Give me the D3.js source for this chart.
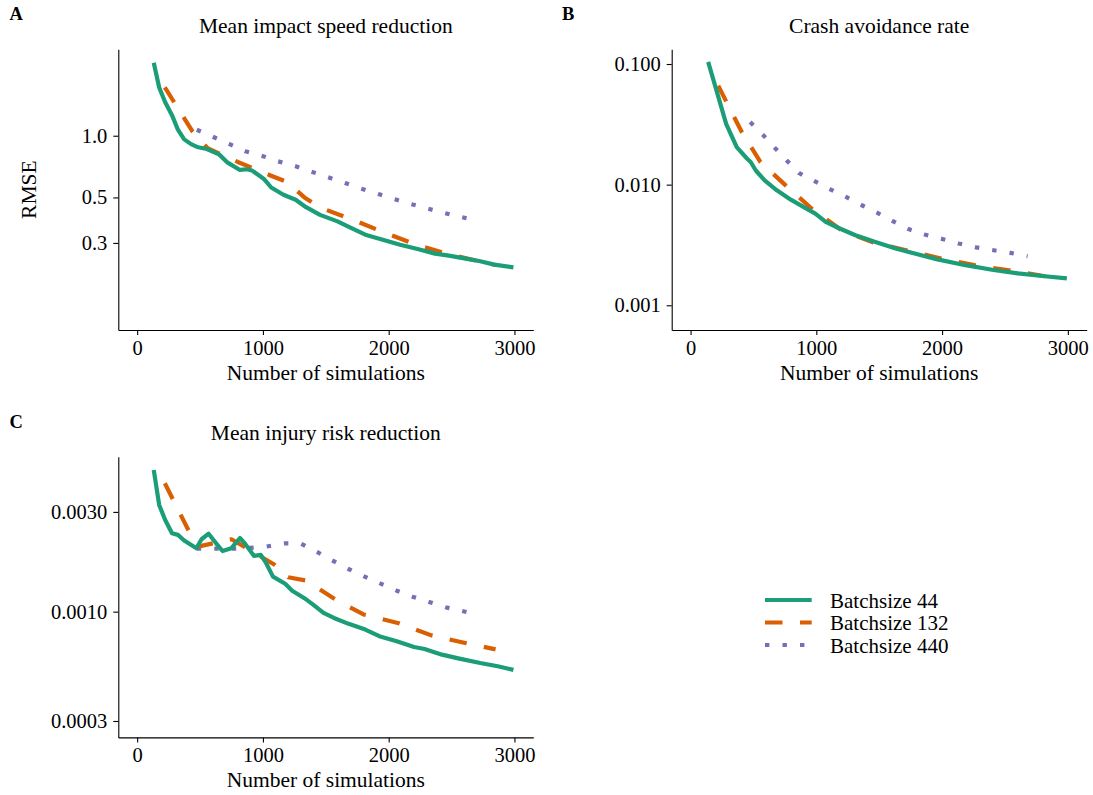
<!DOCTYPE html>
<html>
<head>
<meta charset="utf-8">
<script src="https://cdn.jsdelivr.net/npm/d3@7"></script>
<style>
  html, body { margin: 0; padding: 0; background: #fff; overflow: hidden; }
  svg { display: block; }
  svg text { font-family: "Liberation Serif", "Times New Roman", serif; fill: #000; }
</style>
</head>
<body>
<div id="chart"></div>
<script>
// x ticks shared by all panels
const xTicks = [0, 1000, 2000, 3000];
const seriesNames = ["Batchsize 44", "Batchsize 132", "Batchsize 440"];
const seriesColors = ["#1B9E77", "#D95F02", "#7570B3"];

// Panel A: mean impact speed reduction (RMSE)
const impactB44 = [[132,2.27],[175,1.72],[222,1.46],[277,1.26],[324,1.07],[374,0.96],[429,0.91],[485,0.878],[554,0.861],[651,0.811],[720,0.739],[817,0.681],[873,0.686],[914,0.676],[1011,0.613],[1066,0.559],[1163,0.515],[1260,0.487],[1343,0.448],[1454,0.411],[1593,0.382],[1704,0.354],[1814,0.329],[1953,0.311],[2091,0.294],[2230,0.280],[2368,0.266],[2479,0.260],[2590,0.253],[2728,0.244],[2839,0.235],[2992,0.228]];
const impactB132 = [[220,1.72],[440,1.05],[560,0.87],[800,0.745],[1060,0.64],[1190,0.595],[1330,0.50],[1460,0.445],[1720,0.388],[1980,0.334],[2240,0.291],[2500,0.262],[2850,0.234]];
const impactB440 = [[474,1.07],[600,0.99],[735,0.91],[860,0.84],[1000,0.795],[1120,0.75],[1260,0.71],[1385,0.668],[1525,0.625],[1660,0.586],[1790,0.55],[1925,0.518],[2050,0.49],[2190,0.462],[2330,0.438],[2450,0.419],[2640,0.393]];

// Panel B: crash avoidance rate
const crashB44 = [[140,0.104],[214,0.0565],[283,0.0319],[367,0.0205],[450,0.0164],[478,0.0154],[519,0.0131],[589,0.01086],[686,0.00898],[797,0.00751],[908,0.00645],[992,0.00576],[1075,0.00491],[1186,0.00433],[1311,0.00381],[1464,0.00336],[1631,0.00296],[1797,0.00266],[1964,0.0024],[2186,0.00215],[2409,0.00196],[2603,0.00184],[2797,0.00175],[2992,0.00167]];
const crashB132 = [[220,0.066],[408,0.0272],[556,0.0154],[756,0.00986],[978,0.00614],[1200,0.0042],[1450,0.00332],[1714,0.00286],[1992,0.00244],[2256,0.00215],[2547,0.00194],[2850,0.00172]];
const crashB440 = [[474,0.033],[575,0.0259],[672,0.0201],[769,0.0157],[861,0.0125],[986,0.0107],[1111,0.00914],[1236,0.00791],[1361,0.00675],[1486,0.00583],[1608,0.00498],[1733,0.00428],[1861,0.00386],[2000,0.00355],[2131,0.00325],[2270,0.00302],[2409,0.00286],[2542,0.00272],[2680,0.00255]];

// Panel C: mean injury risk reduction
const injuryB44 = [[132,0.00476],[175,0.00324],[222,0.00275],[277,0.00237],[324,0.00233],[374,0.00219],[471,0.00201],[512,0.00222],[568,0.00236],[623,0.00214],[679,0.00195],[748,0.00201],[817,0.00225],[859,0.00211],[928,0.00185],[983,0.00187],[1025,0.00171],[1080,0.00147],[1177,0.00136],[1233,0.00126],[1330,0.00116],[1399,0.00108],[1482,0.000986],[1565,0.000933],[1676,0.000877],[1814,0.000821],[1925,0.000763],[2064,0.000722],[2202,0.000678],[2285,0.000663],[2424,0.000623],[2562,0.000596],[2728,0.000568],[2867,0.000548],[2992,0.000527]];
const injuryB132 = [[220,0.00411],[475,0.00204],[750,0.00222],[1090,0.00168],[1200,0.00146],[1340,0.00141],[1580,0.00114],[1800,0.00097],[2080,0.00088],[2340,0.00077],[2600,0.00071],[2850,0.00066]];
const injuryB440 = [[474,0.0020],[620,0.0020],[766,0.0020],[900,0.00202],[1030,0.00205],[1176,0.00212],[1300,0.00212],[1430,0.00193],[1550,0.00176],[1680,0.0016],[1800,0.00148],[1925,0.00137],[2064,0.00126],[2188,0.00118],[2327,0.00111],[2451,0.00105],[2640,0.00099]];

const panels = [
  { tag: "A", title: "Mean impact speed reduction", left: 118.3, top: 49.3, yLabel: "RMSE",
    yDomain: [0.1128, 2.64], yTicks: [0.3, 0.5, 1.0], fmt: d3.format(".1f"),
    series: [impactB44, impactB132, impactB440] },
  { tag: "B", title: "Crash avoidance rate", left: 671.7, top: 49.3, yLabel: null,
    yDomain: [0.000624, 0.1324], yTicks: [0.001, 0.01, 0.1], fmt: d3.format(".3f"),
    series: [crashB44, crashB132, crashB440] },
  { tag: "C", title: "Mean injury risk reduction", left: 118.3, top: 456.7, yLabel: null,
    yDomain: [0.0002504, 0.00551], yTicks: [0.0003, 0.001, 0.003], fmt: d3.format(".4f"),
    series: [injuryB44, injuryB132, injuryB440] }
];

const width = 1093, height = 795;
const innerWidth = 415, innerHeight = 280.7;
const dashes = [null, "17.5,17.5", "4.4,13.1"];

const svg = d3.select("#chart")
  .append("svg")
  .attr("width", width)
  .attr("height", height);

const xScale = d3.scaleLinear()
  .domain([-150, 3150])
  .range([0, innerWidth]);

panels.forEach(p => {
  const g = svg.append("g")
    .attr("transform", `translate(${p.left},${p.top})`);

  const yScale = d3.scaleLog()
    .domain(p.yDomain)
    .range([innerHeight, 0]);

  // X axis
  const xAxis = g.append("g")
    .attr("transform", `translate(0,${innerHeight})`)
    .call(d3.axisBottom(xScale).tickValues(xTicks).tickFormat(d3.format("d"))
      .tickSize(5).tickSizeOuter(0).tickPadding(5));

  // Y axis
  const yAxis = g.append("g")
    .call(d3.axisLeft(yScale).tickValues(p.yTicks).tickFormat(p.fmt)
      .tickSize(5).tickSizeOuter(0).tickPadding(6));

  [xAxis, yAxis].forEach(ax => {
    ax.attr("font-family", null).attr("font-size", "20.5px");
    ax.selectAll("path, line").attr("stroke", "#000").attr("stroke-width", 1.1);
    ax.selectAll("text").attr("fill", "#000");
  });

  // X axis label
  g.append("text")
    .attr("x", innerWidth / 2)
    .attr("y", innerHeight + 50)
    .attr("text-anchor", "middle")
    .attr("font-size", "21.5px")
    .text("Number of simulations");

  // Y axis label
  if (p.yLabel) {
    g.append("text")
      .attr("transform", "rotate(-90)")
      .attr("x", -innerHeight / 2)
      .attr("y", 36 - p.left)
      .attr("text-anchor", "middle")
      .attr("font-size", "21.5px")
      .text(p.yLabel);
  }

  // Title
  g.append("text")
    .attr("x", innerWidth / 2)
    .attr("y", -16.6)
    .attr("text-anchor", "middle")
    .attr("font-size", "21.5px")
    .text(p.title);

  // Panel tag
  g.append("text")
    .attr("x", (p.tag === "B" ? 562 : 9.5) - p.left)
    .attr("y", (p.tag === "C" ? 427.5 : 20) - p.top)
    .attr("font-size", "18.5px")
    .attr("font-weight", "bold")
    .text(p.tag);

  const line = d3.line()
    .x(d => xScale(d[0]))
    .y(d => yScale(d[1]));

  // Draw lines (purple below, green on top)
  [2, 1, 0].forEach(i => {
    g.append("path")
      .datum(p.series[i])
      .attr("d", line)
      .attr("fill", "none")
      .attr("stroke", seriesColors[i])
      .attr("stroke-width", 4.2)
      .attr("stroke-linejoin", "round")
      .attr("stroke-linecap", "butt")
      .attr("stroke-dasharray", dashes[i]);
  });
});

// Legend
const legend = svg.append("g").attr("transform", "translate(765,600)");
seriesNames.forEach((name, i) => {
  const row = legend.append("g").attr("transform", `translate(0,${i * 22.5})`);
  row.append("line")
    .attr("x1", 0).attr("x2", 46.7)
    .attr("y1", 0).attr("y2", 0)
    .attr("stroke", seriesColors[i])
    .attr("stroke-width", 4.2)
    .attr("stroke-dasharray", dashes[i]);
  row.append("text")
    .attr("x", 65)
    .attr("y", 7.5)
    .attr("font-size", "21px")
    .text(name);
});
</script>
</body>
</html>
